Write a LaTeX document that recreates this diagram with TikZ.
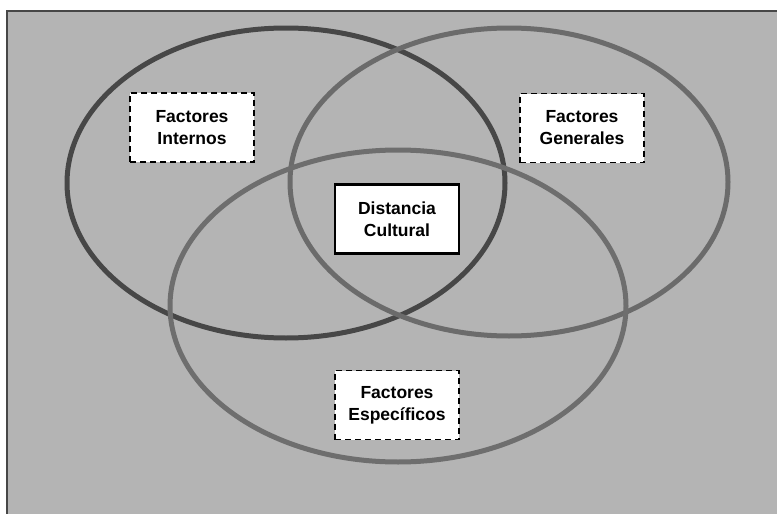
\documentclass[tikz,border=0pt]{standalone}
\usepackage{fontspec}
\setmainfont{Liberation Sans}
\usetikzlibrary{positioning}
\definecolor{fondo}{gray}{0.705}
\definecolor{circA}{gray}{0.28}
\definecolor{circB}{gray}{0.42}
\definecolor{circC}{gray}{0.43}
\tikzstyle{factor} = [draw, dash pattern=on 6pt off 4pt, line width=1.6pt, fill=white, rectangle, minimum width=124pt, minimum height=69pt, align=center, font=\fontsize{17.5}{22}\selectfont\bfseries]
\tikzstyle{centro} = [factor, solid, line width=2.8pt]
\tikzstyle{circulo} = [line width=5pt]

\begin{document}
\begin{tikzpicture}[x=1pt,y=-1pt]
    \useasboundingbox (0,0) rectangle (777,514);
    \fill[fondo] (7,11) rectangle (777,514);
    \draw[circA, line width=2pt] (7,514) -- (7,11) -- (777,11);
    % conjuntos
    \draw[circulo, circA] (286,183) ellipse [x radius=219, y radius=155];
    \draw[circulo, circB] (509,182) ellipse [x radius=219, y radius=154];
    \draw[circulo, circC] (398,306) ellipse [x radius=228, y radius=156];
    % etiquetas
    \node[factor] (internos) at (192,127.5) {Factores\\Internos};
    \node[factor] (generales) at (582,128) {Factores\\Generales};
    \node[centro] (distancia) at (397,219) {Distancia\\Cultural};
    \node[factor] (especificos) at (397,405) {Factores\\Espec\'ificos};
\end{tikzpicture}
\end{document}
